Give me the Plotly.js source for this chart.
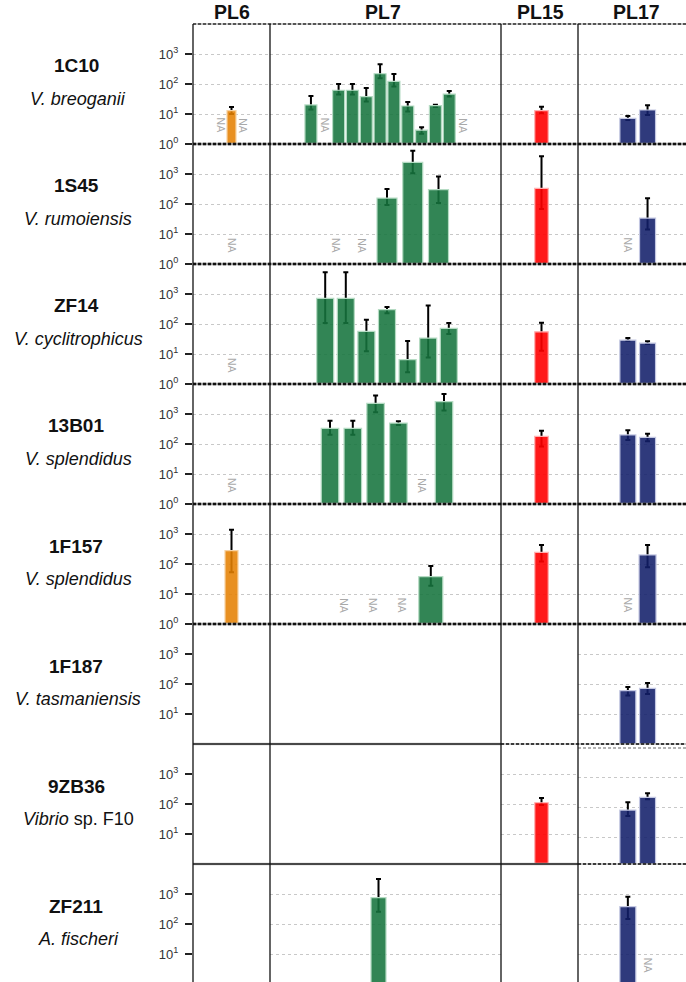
<!DOCTYPE html>
<html><head><meta charset="utf-8">
<script src="https://cdn.plot.ly/plotly-3.0.1.min.js"></script>
<style>html,body{margin:0;padding:0;overflow:hidden;background:#fff}#chart{width:696px;height:984px}</style>
</head><body><div id="chart"></div>
<script>
// ---------------- DATA ----------------
const strains = ['1C10','1S45','ZF14','13B01','1F157','1F187','9ZB36','ZF211'];
const species = ['<i>V. breoganii</i>','<i>V. rumoiensis</i>','<i>V. cyclitrophicus</i>','<i>V. splendidus</i>',
                 '<i>V. splendidus</i>','<i>V. tasmaniensis</i>','<i>Vibrio</i> sp. F10','<i>A. fischeri</i>'];
const groups = ['PL6','PL7','PL15','PL17'];
const tickValues = [1,10,100,1000];
const tickLabels = ['10<sup>0</sup>','10<sup>1</sup>','10<sup>2</sup>','10<sup>3</sup>'];

// per strain (row), per slot: mean value, 'NA' or null (empty)
const PL6_mean = [['NA',13,'NA'],['NA'],['NA'],['NA'],[280],[],[],[]];
const PL6_low  = [[null,10,null],[null],[null],[null],[53],[],[],[]];
const PL6_high = [[null,17,null],[null],[null],[null],[1390],[],[],[]];

const PL7_mean = [
  [20,'NA',62,62,38,220,122,18.5,2.9,19,46,'NA'],
  ['NA','NA',158,2450,300],
  [720,720,57,300,6.5,34,72],
  [333,333,2270,500,'NA',2570],
  ['NA','NA','NA',38],
  [],[],
  [755,null]];
const PL7_low = [
  [14,null,45,45,26,155,82,12,2.2,17,38,null],
  [null,null,93,1050,108],
  [108,108,12.3,228,2.45,7.7,46],
  [204,204,1140,430,null,1300],
  [null,null,null,19],
  [],[],
  [257,null]];
const PL7_high = [
  [40,null,100,100,73,455,215,25,3.6,20.5,58,null],
  [null,null,316,6000,830],
  [5300,5300,139,370,27,410,108],
  [600,600,4100,570,null,4650],
  [null,null,null,86],
  [],[],
  [3170,null]];

const PL15_mean = [[13],[333],[55],[180],[245],[],[110],[]];
const PL15_low  = [[10.5],[68],[12.9],[82],[120],[],[93],[]];
const PL15_high = [[17.5],[3900],[110],[278],[430],[],[158],[]];

const PL17_mean = [[7.2,13.6],['NA',34],[29,23],[200,166],['NA',200],[60,72],[83,220],[380,'NA']];
const PL17_low  = [[6.3,9.3],[null,14],[27.5,21.6],[135,123],[null,78],[41,46],[52,190],[147,null]];
const PL17_high = [[8.6,19.5],[null,155],[34,26.5],[287,220],[null,430],[80,108],[150,300],[815,null]];

// ---------------- STYLE / LAYOUT PARAMETERS ----------------
const FONT = '"Liberation Sans", Arial, Helvetica, sans-serif';
const W = 696, H = 984, L = 193, T = 24, ROWH = 120;
const colPx = [[193,270],[270,501],[501,578],[578,696]];
const colCenter = [231.5, 387, 541.5, 637.7];
const slotPx = [
  [10.7,15,15,15,15,15,15,15],
  [13.83,25.75,20.6,22.8,29.2,20,20,17],
  [20,20,20,20,20,20,20,20],
  [19.7,19.7,19.7,19.7,19.7,19.7,19.7,19.7]];
const barPx = [
  [9,9,9,9,13,9,9,9],
  [12,20,17,17.5,24,15,15,15],
  [13.5,13.5,13.5,13.5,13.5,13.5,13.5,13.5],
  [16,16,16,16,17,16,16,16]];
const fillColors = ['rgba(229,129,2,0.88)','rgba(22,116,62,0.88)','rgba(255,0,0,0.9)','rgba(18,31,106,0.88)'];
const edgeColors = ['#F7D2A2','#B5DBC3','#FFB0B0','#C3C7E2'];

const means = [PL6_mean, PL7_mean, PL15_mean, PL17_mean];
const lows  = [PL6_low, PL7_low, PL15_low, PL17_low];
const highs = [PL6_high, PL7_high, PL15_high, PL17_high];

const xp = px => (px - L) / (W - L);
const yp = py => 1 - (py - T) / (H - T);
const sid = k => (k === 1 ? '' : String(k));

const data = [], annotations = [], shapes = [];
const layout = {
  width: W, height: H, margin: {l: L, r: 0, t: T, b: 0},
  barmode: 'overlay', showlegend: false,
  paper_bgcolor: '#fff', plot_bgcolor: 'rgba(0,0,0,0)',
  font: {family: FONT, color: '#111'}
};

for (let r = 0; r < 8; r++) {
  for (let c = 0; c < 4; c++) {
    const k = r * 4 + c + 1;
    const m = means[c][r];
    const n = m.length;
    const s = slotPx[c][r];
    const ci = (Math.max(n, 1) - 1) / 2;
    const x0 = ci - (colCenter[c] - colPx[c][0]) / s;
    const x1 = ci + (colPx[c][1] - colCenter[c]) / s;
    const rowTop = T + r * ROWH;
    const hasData = n > 0;
    const yr = (r === 6 && c === 3) ? [0.12, 4.12] : [0, 4];
    layout['xaxis' + sid(k)] = {
      domain: [xp(colPx[c][0]), xp(colPx[c][1])], range: [x0, x1], anchor: 'y' + sid(k),
      showgrid: false, zeroline: false, showticklabels: false, ticks: '', showline: false, fixedrange: true
    };
    layout['yaxis' + sid(k)] = {
      domain: [yp(rowTop + ROWH), yp(rowTop)], type: 'log', range: yr, anchor: 'x' + sid(k),
      showgrid: hasData, gridcolor: '#c8c8c8', griddash: '3px,3px', gridwidth: 1,
      zeroline: false, showline: false, tickmode: 'array',
      tickvals: r < 5 ? tickValues : tickValues.slice(1),
      ticktext: r < 5 ? tickLabels : tickLabels.slice(1),
      ticks: c === 0 ? 'outside' : '', ticklen: 7, tickwidth: 1.3, tickcolor: '#222',
      ticklabelstandoff: 4,
      showticklabels: c === 0, tickfont: {size: 13, color: '#333', family: FONT}, fixedrange: true
    };
    const xs = [], ys = [], ep = [], em = [];
    m.forEach((v, i) => {
      if (v === 'NA') {
        annotations.push({xref: 'x' + sid(k), yref: 'y' + sid(k), x: i, y: 0.62, text: 'NA',
          textangle: 90, showarrow: false, font: {size: 10.5, color: '#a9a9a9', family: FONT}});
      } else if (typeof v === 'number') {
        xs.push(i); ys.push(v);
        ep.push(highs[c][r][i] - v); em.push(v - lows[c][r][i]);
      }
    });
    if (xs.length) {
      const w = barPx[c][r] / s;
      data.push({type: 'bar', x: xs, y: ys, xaxis: 'x' + sid(k), yaxis: 'y' + sid(k), width: w,
        marker: {color: 'rgba(0,0,0,0)', line: {width: 0}}, hoverinfo: 'skip',
        error_y: {type: 'data', symmetric: false, array: ep, arrayminus: em, color: '#000', thickness: 2, width: 2.5}});
      data.push({type: 'bar', x: xs, y: ys, xaxis: 'x' + sid(k), yaxis: 'y' + sid(k), width: w,
        marker: {color: fillColors[c], line: {color: edgeColors[c], width: 1.2}}, hoverinfo: 'skip'});
    } else {
      // invisible placeholder so that the empty panel's axes are drawn
      data.push({type: 'scatter', mode: 'markers', x: [ci], y: [1], xaxis: 'x' + sid(k), yaxis: 'y' + sid(k),
        marker: {opacity: 0, size: 1}, hoverinfo: 'skip'});
    }
  }
  // row labels
  const rowTop = T + r * ROWH;
  annotations.push({xref: 'paper', yref: 'paper', x: xp(76), y: yp(rowTop + 42), xanchor: 'center', yanchor: 'middle',
    text: '<b>' + strains[r] + '</b>', showarrow: false, font: {size: 19, color: '#111', family: FONT}});
  annotations.push({xref: 'paper', yref: 'paper', x: xp(78), y: yp(rowTop + 75), xanchor: 'center', yanchor: 'middle',
    text: species[r], showarrow: false, font: {size: 18, color: '#111', family: FONT}});
}

// column headers
const headerX = [231.5, 383, 540, 636];
groups.forEach((g, c) => {
  annotations.push({xref: 'paper', yref: 'paper', x: xp(headerX[c]), y: yp(12), xanchor: 'center', yanchor: 'middle',
    text: '<b>' + g + '</b>', showarrow: false, font: {size: 19.5, color: '#111', family: FONT}});
});

// frame lines
function hline(py, a, b, color, width, dash) {
  shapes.push({type: 'line', xref: 'paper', yref: 'paper', x0: xp(a), x1: xp(b), y0: yp(py), y1: yp(py),
    line: {color: color, width: width, dash: dash || 'solid'}});
}
function vline(px) {
  shapes.push({type: 'line', xref: 'paper', yref: 'paper', x0: xp(px), x1: xp(px), y0: 0, y1: 1,
    line: {color: '#111', width: 1.3}});
}
hline(24, 193, 696, '#c4c4c4', 2);
hline(24, 193, 696, '#555', 2, '3px,2px');
for (let r = 1; r <= 5; r++) {
  const py = T + r * ROWH;
  hline(py, 193, 696, '#999', 2.4);
  hline(py, 193, 696, '#111', 2.4, '3px,2px');
}
hline(744, 193, 501, '#bbb', 2.5);
hline(744, 193, 501, '#222', 1.4);
hline(744, 501, 696, '#aaa', 1.5);
hline(744, 501, 696, '#111', 1.5, '3px,2px');
hline(748, 578, 696, '#666', 1.2, '3px,2px');
hline(864, 193, 578, '#bbb', 2.5);
hline(864, 193, 578, '#222', 1.4);
hline(864, 578, 696, '#aaa', 1.5);
hline(864, 578, 696, '#111', 1.5, '3px,2px');
colPx.forEach((cp, i) => vline(cp[0]));

layout.annotations = annotations;
layout.shapes = shapes;
Plotly.newPlot('chart', data, layout, {staticPlot: true, displayModeBar: false});
</script>
</body></html>
